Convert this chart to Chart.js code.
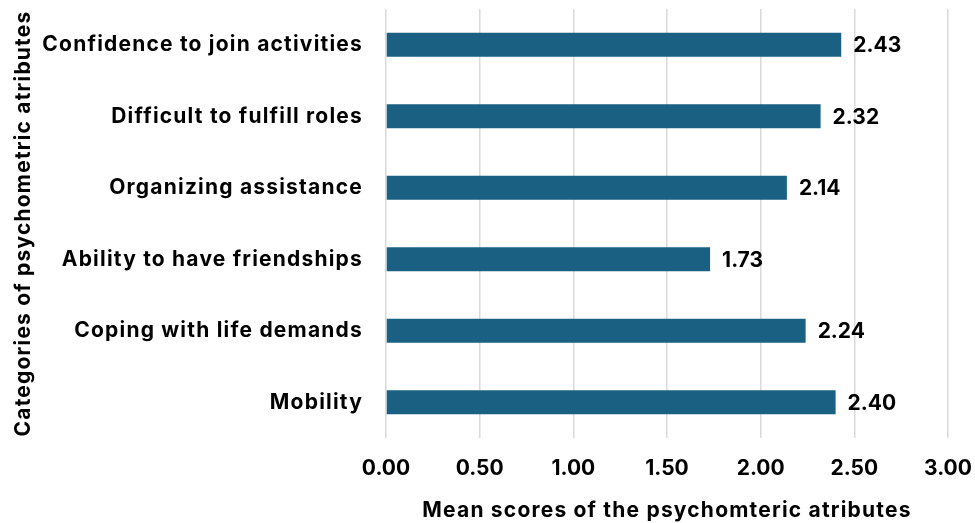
<!DOCTYPE html>
<html>
<head>
<meta charset="utf-8">
<script src="https://cdn.jsdelivr.net/npm/chart.js@4"></script>
<style>
html,body{margin:0;padding:0;background:#fff;}
#wrap{width:975px;height:523px;}
</style>
</head>
<body>
<div id="wrap"><canvas id="c"></canvas></div>
<script>
const categories = ["Confidence to join activities","Difficult to fulfill roles","Organizing assistance","Ability to have friendships","Coping with life demands","Mobility"];
const meanScores = [2.43, 2.32, 2.14, 1.73, 2.24, 2.40];
const xTicks = [0, 0.5, 1, 1.5, 2, 2.5, 3];
const xTitle = "Mean scores of the psychomteric atributes";
const yTitle = "Categories of psychometric atributes";

const FONT = "Inter";
const FS = 21;
const spacingPlugin = {
  id: 'textSpacing',
  beforeDraw(chart){ chart.ctx.letterSpacing = '1.2px'; }
};
const labelPlugin = {
  id: 'valueLabels',
  afterDatasetsDraw(chart){
    const ctx = chart.ctx;
    const meta = chart.getDatasetMeta(0);
    ctx.save();
    ctx.letterSpacing = '0px';
    ctx.font = "bold " + FS + "px " + FONT;
    ctx.fillStyle = "#000";
    ctx.textAlign = "left";
    ctx.textBaseline = "middle";
    meta.data.forEach((bar,i)=>{
      ctx.fillText(meanScores[i].toFixed(2), bar.x + 12, bar.y + 1);
    });
    ctx.restore();
    ctx.letterSpacing = '0px';
  }
};

new Chart(document.getElementById('c'), {
  type: 'bar',
  data: {
    labels: categories,
    datasets: [{
      data: meanScores,
      backgroundColor: '#1a6083',
      borderWidth: 0,
      barPercentage: 0.336,
      categoryPercentage: 1.0
    }]
  },
  options: {
    indexAxis: 'y',
    responsive: true,
    maintainAspectRatio: false,
    animation: false,
    layout: { padding: { top: 9, right: 27, bottom: 0, left: 0 } },
    plugins: { legend: { display: false }, tooltip: { enabled: false } },
    scales: {
      x: {
        min: 0, max: 3,
        afterBuildTicks(scale){ scale.ticks = xTicks.map(v=>({value:v})); },
        ticks: {
          color: '#000',
          font: { family: FONT, size: FS, weight: 'bold' },
          padding: 18,
          maxRotation: 0,
          z: 1,
          callback: v => Number(v).toFixed(2)
        },
        grid: { color: '#d9d9d9', lineWidth: 1.5, drawTicks: false },
        border: { display: false },
        title: {
          display: true, text: xTitle, color: '#000',
          font: { family: FONT, size: FS, weight: 'bold' },
          padding: { top: 14, bottom: 0 }
        },
        afterFit(scale){ scale.height = 85; scale.paddingLeft = 0; scale.paddingRight = 0; }
      },
      y: {
        ticks: {
          color: '#000',
          font: { family: FONT, size: FS, weight: 'bold' },
          padding: 23,
          autoSkip: false
        },
        grid: { display: false, drawTicks: false },
        border: { display: false },
        title: {
          display: true, text: yTitle, color: '#000',
          font: { family: FONT, size: FS, weight: 'bold' },
          padding: { top: 11, bottom: 0 }
        },
        afterFit(scale){ scale.width = 386; scale.paddingTop = 0; scale.paddingBottom = 0; }
      }
    }
  },
  plugins: [spacingPlugin, labelPlugin]
});
</script>
</body>
</html>
